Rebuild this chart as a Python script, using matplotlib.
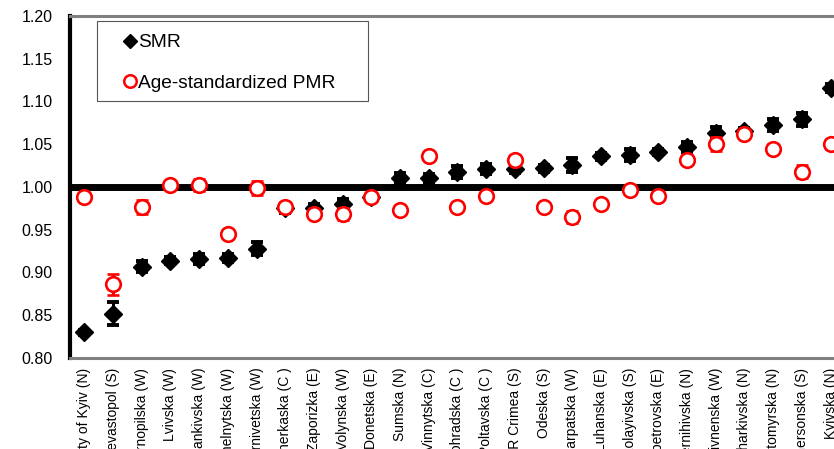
import matplotlib
matplotlib.use("Agg")
import matplotlib.pyplot as plt
from matplotlib.patches import Rectangle
from matplotlib.lines import Line2D

plt.rcParams['font.family'] = ['Liberation Sans', 'DejaVu Sans']

regions = ["City of Kyiv (N)", "Sevastopol (S)", "Ternopilska (W)", "Lvivska (W)",
           "Ivano-Frankivska (W)", "Khmelnytska (W)", "Chernivetska (W)", "Cherkaska (C )",
           "Zaporizka (E)", "Volynska (W)", "Donetska (E)", "Sumska (N)", "Vinnytska (C)",
           "Kirovohradska (C )", "Poltavska (C )", "AR Crimea (S)", "Odeska (S)",
           "Zakarpatska (W)", "Luhanska (E)", "Mykolayivska (S)", "Dnipropetrovska (E)",
           "Chernihivska (N)", "Rivnenska (W)", "Kharkivska (N)", "Zhytomyrska (N)",
           "Khersonska (S)", "Kyivska (N)"]

smr = [0.830, 0.852, 0.907, 0.914, 0.916, 0.917, 0.928, 0.975, 0.976, 0.980, 0.988,
       1.010, 1.010, 1.018, 1.021, 1.021, 1.022, 1.026, 1.036, 1.037, 1.041, 1.047,
       1.063, 1.065, 1.072, 1.079, 1.116]
smr_err = [0.003, 0.013, 0.007, 0.004, 0.006, 0.005, 0.008, 0.005, 0.004, 0.006, 0.003,
           0.006, 0.005, 0.007, 0.006, 0.005, 0.004, 0.008, 0.004, 0.007, 0.004, 0.006,
           0.007, 0.004, 0.007, 0.008, 0.005]

pmr = [0.988, 0.886, 0.977, 1.002, 1.002, 0.945, 0.999, 0.977, 0.968, 0.968, 0.988,
       0.973, 1.036, 0.977, 0.989, 1.032, 0.977, 0.965, 0.980, 0.997, 0.990, 1.032,
       1.050, 1.062, 1.045, 1.018, 1.050]
pmr_err = [0.003, 0.012, 0.008, 0.004, 0.007, 0.005, 0.008, 0.006, 0.004, 0.007, 0.003,
           0.004, 0.005, 0.005, 0.004, 0.006, 0.004, 0.007, 0.004, 0.005, 0.004, 0.005,
           0.008, 0.004, 0.005, 0.008, 0.006]

yticks = [0.80, 0.85, 0.90, 0.95, 1.00, 1.05, 1.10, 1.15, 1.20]

W, H = 834, 449
fig = plt.figure(figsize=(W / 100, H / 100), dpi=100)
ax = fig.add_axes([70 / W, (H - 358) / H, 27 * 28.7 / W, (358 - 16) / H])

x = list(range(len(regions)))
ax.axhline(1.0, color='black', lw=5, zorder=2)

ax.errorbar(x, smr, yerr=smr_err, fmt='D', color='black', ms=9, capsize=4.3,
            capthick=2.8, elinewidth=2.2, zorder=3)
ax.errorbar(x, pmr, yerr=pmr_err, fmt='o', color='red', mfc='white', mec='red',
            ms=10.5, mew=1.9, capsize=4.3, capthick=2.8, elinewidth=2.2, zorder=4)

ax.set_xlim(-0.5, len(regions) - 0.5)
ax.set_ylim(0.80, 1.20)
ax.set_yticks(yticks)
ax.set_yticklabels([f"{v:.2f}" for v in yticks], fontsize=11.5)
ax.set_xticks(x)
ax.set_xticklabels(regions, rotation=90, fontsize=10, va='top', ha='center')
ax.tick_params(axis='y', length=0, pad=12.5)
ax.tick_params(axis='x', length=0, pad=7)

ax.spines['left'].set_color('black')
ax.spines['left'].set_linewidth(3)
for s in ['top', 'bottom', 'right']:
    ax.spines[s].set_color('#808080')
    ax.spines[s].set_linewidth(2.2)

# legend frame and entries
fig.patches.append(Rectangle((97 / W, (H - 101) / H), (368 - 97) / W, (101 - 21) / H,
                             transform=fig.transFigure, facecolor='white',
                             edgecolor='#555555', lw=0.8, zorder=5))
handles = [Line2D([], [], marker='D', color='black', ls='none', ms=7.5),
           Line2D([], [], marker='o', color='red', mfc='white', mec='red', ls='none',
                  ms=9, mew=1.8)]
leg = fig.legend(handles, ["SMR", "Age-standardized PMR"], loc='upper left',
                 bbox_to_anchor=(125 / W, 1 - 34 / H), frameon=False, fontsize=13.8,
                 handlelength=0.55, handletextpad=0.12, labelspacing=1.2,
                 borderpad=0, borderaxespad=0)
leg.set_zorder(6)

fig.savefig("out.png", dpi=100)
